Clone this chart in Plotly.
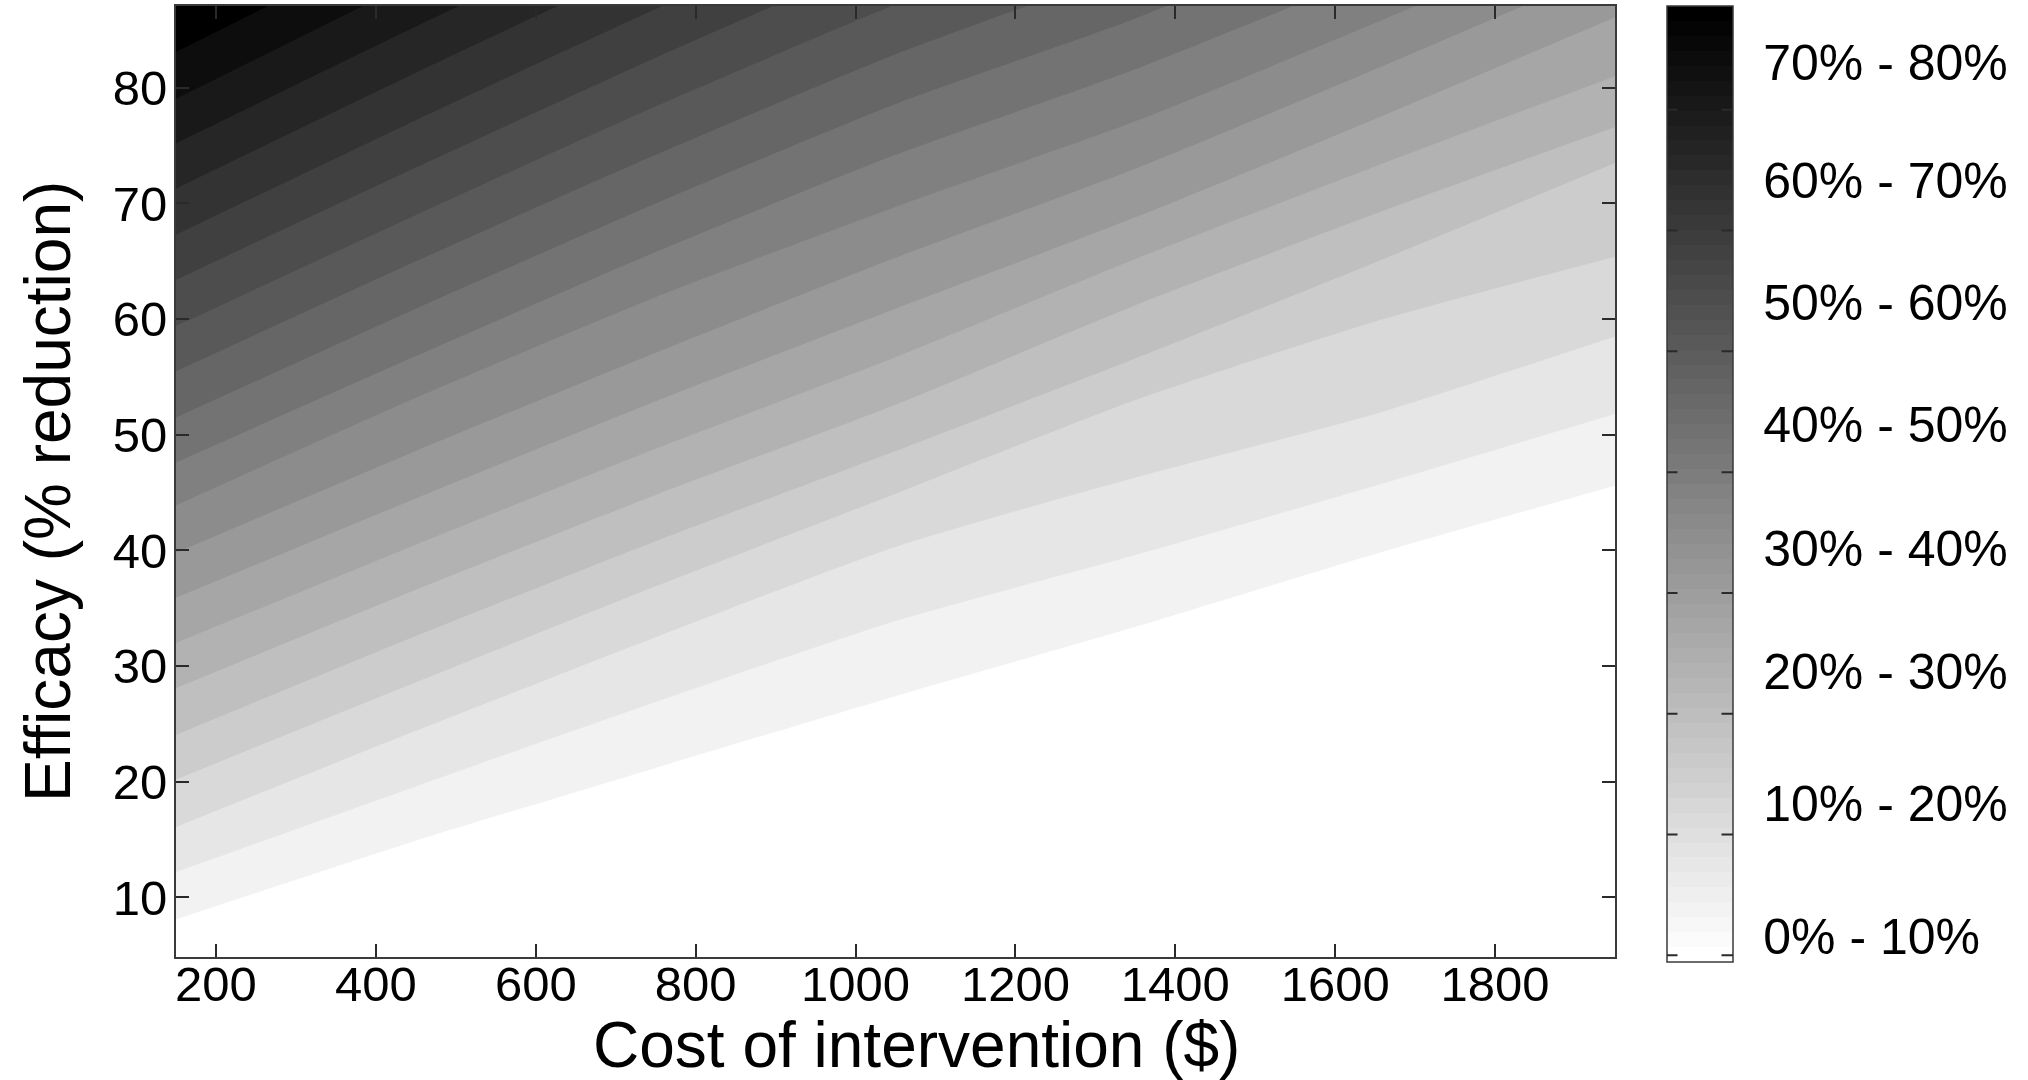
import plotly.graph_objects as go

# Cost of the intervention ($) at which each contour is sampled
costs = [150, 450, 750, 1050, 1350, 1650, 1950]

# Contour levels: percentage of cases averted
levels = [4, 8, 12, 16, 20, 24, 28, 32, 36, 40, 44, 48, 52, 56, 60, 64, 68, 72, 76, 80]

# Efficacy (% reduction) at which each level is reached, one row per level, one value per cost
level_efficacy = [
    [8.1, 14.9, 21.2, 27.4, 33.4, 39.7, 45.6],
    [12.2, 19.6, 26.9, 33.9, 39.6, 45.6, 51.8],
    [16.1, 24.4, 32.5, 40.3, 46.3, 51.8, 58.5],
    [20.2, 28.6, 36.9, 44.9, 53.0, 59.8, 65.4],
    [24.05, 32.6, 40.8, 48.6, 56.6, 64.9, 73.5],
    [28.1, 36.6, 44.8, 52.6, 61.2, 69.1, 76.6],
    [32.0, 40.5, 48.8, 56.7, 65.2, 73.2, 81.0],
    [35.9, 44.5, 52.9, 60.9, 68.8, 77.3, 86.1],
    [39.8, 48.6, 57.1, 65.3, 73.0, 81.6, 90.5],
    [43.9, 53.2, 61.9, 69.7, 77.1, 85.6, 94.5],
    [47.6, 56.8, 65.8, 74.2, 81.6, 90.0, 99.0],
    [51.5, 60.9, 70.0, 78.6, 86.0, 94.5, 103.0],
    [55.5, 65.0, 74.2, 82.9, 90.5, 99.0, 108.0],
    [59.4, 69.0, 78.4, 87.2, 95.0, 103.0, 112.0],
    [63.4, 73.1, 82.6, 91.6, 99.5, 108.0, 116.0],
    [67.3, 77.2, 86.8, 96.0, 104.0, 112.0, 121.0],
    [71.3, 81.3, 91.0, 100.0, 108.0, 117.0, 125.0],
    [75.2, 85.3, 95.0, 104.0, 113.0, 121.0, 130.0],
    [79.05, 89.3, 99.0, 108.0, 117.0, 126.0, 134.0],
    [83.1, 93.4, 103.0, 112.0, 121.0, 130.0, 139.0],
]

# Axis ticks
x_ticks = [200, 400, 600, 800, 1000, 1200, 1400, 1600, 1800]
y_ticks = [10, 20, 30, 40, 50, 60, 70, 80]

# Colour bar ranges and their labels
cbar_labels = ["0% - 10%", "10% - 20%", "20% - 30%", "30% - 40%",
               "40% - 50%", "50% - 60%", "60% - 70%", "70% - 80%"]
cbar_ticks = [0, 10, 20, 30, 40, 50, 60, 70]

# ---------------------------------------------------------------- layout geometry
W, H = 2028, 1080
PL, PR, PT, PB = 176, 1615, 4, 957            # plot area in pixels
X_RANGE = [150, 1950]
Y_RANGE = [4.85, 87.07]
CB_LEFT, CB_THICK = 1667, 66                  # colour bar position in pixels
CB_TOP, CB_LEN = 4, 956
CB_MIN, CB_MAX = -0.4, 78.6
CB_LABEL_POS = [1.7, 12.7, 23.6, 33.8, 44.0, 54.1, 64.2, 73.9]
FONT = "Liberation Sans, Arial, Helvetica, sans-serif"
TICK_COLOR = "#2a2a2a"


def px_to_paper_x(px):
    return (px - PL) / (PR - PL)


def px_to_paper_y(py):
    return (PB - py) / (PB - PT)


def band_gray(k, n=20):
    g = round(255 * (1 - k / n))
    return f"rgb({g},{g},{g})"


fig = go.Figure()

# Filled bands: draw from the highest level down, each filling below its contour
n_bands = len(levels)
for i in range(len(levels) - 1, -1, -1):
    fig.add_trace(go.Scatter(
        x=costs,
        y=level_efficacy[i],
        mode="lines",
        line=dict(width=0, color=band_gray(i, n_bands), shape="spline", smoothing=0.6),
        fill="tozeroy",
        fillcolor=band_gray(i, n_bands),
        hoverinfo="skip",
        showlegend=False,
    ))

# Colour bar: 64-step grey ramp from white (low) to black (high)
steps = 64
cscale = []
for s in range(steps):
    g = round(255 * (1 - s / (steps - 1)))
    c = f"rgb({g},{g},{g})"
    cscale.append([s / steps, c])
    cscale.append([(s + 1) / steps, c])

fig.add_trace(go.Scatter(
    x=[None], y=[None], mode="markers", showlegend=False, hoverinfo="skip",
    marker=dict(
        color=[CB_MIN], cmin=CB_MIN, cmax=CB_MAX, colorscale=cscale, showscale=True,
        colorbar=dict(
            thickness=CB_THICK, thicknessmode="pixels",
            len=CB_LEN, lenmode="pixels",
            x=px_to_paper_x(CB_LEFT), xanchor="left", xpad=0,
            y=px_to_paper_y(CB_TOP), yanchor="top", ypad=0,
            outlinewidth=1.5, outlinecolor="#3a3a3a", borderwidth=0,
            tickmode="array", tickvals=CB_LABEL_POS, ticktext=cbar_labels,
            ticks="outside", ticklen=20, tickcolor="rgba(0,0,0,0)",
            tickfont=dict(family=FONT, size=50, color="#000"),
        ),
    ),
))

# Colour bar tick marks on both inner edges (short arrow-less segments)
annotations = []
for v in cbar_ticks:
    py = CB_TOP + (CB_MAX - v) / (CB_MAX - CB_MIN) * CB_LEN
    yy = px_to_paper_y(py)
    for x_edge, dx in ((CB_LEFT, 11), (CB_LEFT + CB_THICK, -12)):
        annotations.append(dict(
            text="", xref="paper", yref="paper", x=px_to_paper_x(x_edge), y=yy,
            showarrow=True, arrowhead=0, arrowwidth=2, arrowcolor=TICK_COLOR,
            ax=dx, ay=0, standoff=0, startstandoff=0, borderpad=0,
            font=dict(size=1),
        ))

annotations += [
    dict(text="Cost of intervention ($)", xref="paper", yref="paper",
         x=px_to_paper_x(916), y=px_to_paper_y(1045), xanchor="center", yanchor="middle",
         showarrow=False, font=dict(family=FONT, size=64, color="#000")),
    dict(text="Efficacy (% reduction)", xref="paper", yref="paper", textangle=-90,
         x=px_to_paper_x(48), y=px_to_paper_y(491), xanchor="center", yanchor="middle",
         showarrow=False, font=dict(family=FONT, size=64, color="#000")),
]

axis_common = dict(
    showgrid=False, zeroline=False, showline=True, linecolor="#3a3a3a", linewidth=2,
    mirror="ticks", ticks="inside", ticklen=13, tickwidth=2, tickcolor=TICK_COLOR,
    tickfont=dict(family=FONT, size=49, color="#000"),
)

fig.update_layout(
    width=W, height=H,
    margin=dict(l=PL, r=W - PR, t=PT, b=H - PB, pad=0),
    paper_bgcolor="white",
    plot_bgcolor="black",
    xaxis=dict(range=X_RANGE, tickmode="array", tickvals=x_ticks, ticklabelstandoff=-17,
               **axis_common),
    yaxis=dict(range=Y_RANGE, tickmode="array", tickvals=y_ticks, ticklabelstandoff=-3,
               **axis_common),
    annotations=annotations,
)

fig.write_html("out.html")
